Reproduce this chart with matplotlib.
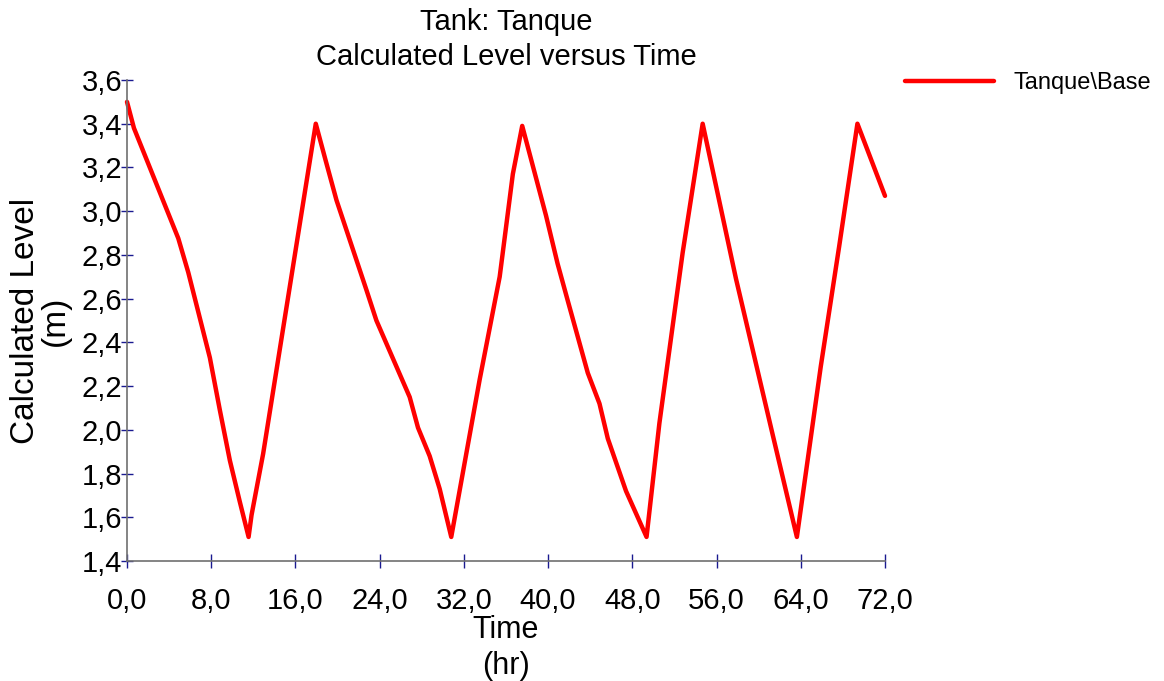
"""
Tank level versus time
"""

from matplotlib import pyplot as plt
import numpy as np

# data
time_hr = [0.0, 0.66, 4.87, 5.82, 7.87, 8.82, 9.77, 10.72, 11.55, 11.83, 12.93,
           17.93, 18.88, 19.9, 22.74, 23.69, 26.85, 27.64, 28.75, 29.7, 30.8,
           33.5, 35.4, 36.65, 37.54, 39.8, 40.9, 41.87, 43.77, 44.88, 45.67,
           47.4, 49.35, 50.57, 52.78, 54.68, 57.85, 61.32, 63.63, 65.9, 67.65,
           69.38, 72.0]
level_m = [3.50, 3.38, 2.876, 2.72, 2.33, 2.09, 1.86, 1.67, 1.51, 1.61, 1.89,
           3.40, 3.23, 3.05, 2.64, 2.50, 2.15, 2.01, 1.88, 1.73, 1.51,
           2.23, 2.70, 3.17, 3.39, 2.98, 2.76, 2.59, 2.26, 2.12, 1.96,
           1.72, 1.51, 2.03, 2.81, 3.40, 2.69, 1.98, 1.51, 2.29, 2.84,
           3.40, 3.07]
series_name = "Tanque\\Base"

x_ticks = np.arange(0, 73, 8)
y_ticks = np.arange(1.4, 3.61, 0.2)

def comma(v):
    return f"{v:.1f}".replace(".", ",")

plt.rcParams['font.family'] = ['Liberation Sans', 'DejaVu Sans']

fig = plt.figure(figsize=(11.64, 6.81), dpi=100)
ax = fig.add_axes([127/1164, 1 - 561/681, (885 - 127)/1164, (561 - 80)/681])

line, = ax.plot(time_hr, level_m, color="#ff0000", linewidth=3.2,
                solid_joinstyle="round", solid_capstyle="round", clip_on=False)

ax.set_xlim(0, 72)
ax.set_ylim(1.4, 3.6)
ax.set_xticks(x_ticks)
ax.set_xticklabels([comma(v) for v in x_ticks])
ax.set_yticks(y_ticks)
ax.set_yticklabels([comma(v) for v in y_ticks])

for s in ["top", "right"]:
    ax.spines[s].set_visible(False)
for s in ["left", "bottom"]:
    ax.spines[s].set_color("#707070")
    ax.spines[s].set_linewidth(1.2)

ax.tick_params(axis="x", direction="inout", length=10, width=1, color="#1a1a90",
               labelsize=21, pad=14)
ax.tick_params(axis="y", direction="inout", length=8.5, width=1, color="#1a1a90",
               labelsize=21, pad=-1)

ax.set_xlabel("Time\n(hr)", fontsize=22, labelpad=0, linespacing=1.25)
ax.set_ylabel("Calculated Level\n(m)", fontsize=24, labelpad=8, linespacing=0.95)
ax.set_title("Tank: Tanque\nCalculated Level versus Time", fontsize=21,
             pad=11, linespacing=1.3)

leg = ax.legend([line], [series_name], loc="center left",
                bbox_to_anchor=(905/1164, 1 - 83/681), bbox_transform=fig.transFigure,
                frameon=False, borderaxespad=0, borderpad=0, handlelength=3.75,
                handletextpad=0.85, prop={"size": 17})

fig.savefig("out.png", dpi=100)
